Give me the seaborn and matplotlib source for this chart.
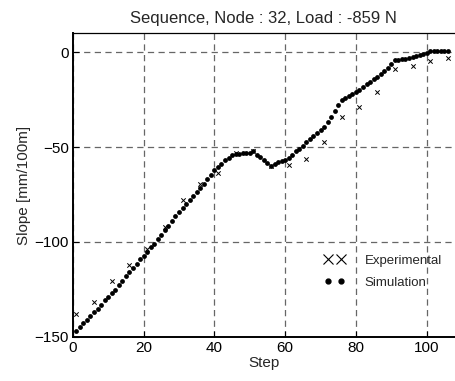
import matplotlib
matplotlib.use("Agg")
import matplotlib.pyplot as plt
from matplotlib.lines import Line2D
import numpy as np
import pandas as pd
import seaborn as sns

# Experimental measurements (every 5 steps)
exp_steps = [1, 6, 11, 16, 21, 26, 31, 36, 41, 46, 51,
             56, 61, 66, 71, 76, 81, 86, 91, 96, 101, 106]
exp_slope = [-138.0, -131.5, -120.5, -112.0, -103.5, -92.0, -78.0, -69.5, -63.5, -53.0, -52.0,
             -60.0, -59.5, -56.5, -47.5, -34.0, -29.0, -21.0, -9.0, -7.5, -4.5, -3.2]

# Simulation values, steps 1..106
sim_steps = list(range(1, 107))
sim_slope = [
    -146.8, -144.7, -142.8, -140.9, -138.9, -136.8, -135.1, -133.0, -130.8, -128.9,
    -127.0, -125.1, -122.8, -120.7, -118.2, -115.8, -113.8, -111.4, -109.1, -107.4,
    -105.3, -102.8, -100.9, -98.4, -96.3, -93.7, -91.4, -88.9, -86.5, -84.4,
    -82.3, -80.2, -78.0, -75.8, -73.7, -71.4, -69.3, -67.0, -64.9, -62.3,
    -60.5, -58.8, -57.0, -55.6, -54.4, -53.5, -53.7, -53.3, -53.2, -53.0,
    -52.3, -54.2, -55.5, -56.6, -58.2, -59.8, -58.9, -58.1, -57.4, -56.6,
    -55.8, -54.4, -52.3, -50.9, -49.3, -47.4, -45.8, -44.0, -42.6, -41.2,
    -39.6, -36.8, -34.2, -31.0, -28.0, -25.4, -24.2, -22.9, -21.9, -21.0,
    -19.7, -18.4, -17.0, -15.6, -14.4, -13.1, -11.7, -10.0, -8.2, -6.1,
    -4.4, -4.0, -3.8, -3.7, -3.3, -2.6, -1.9, -1.4, -1.0, -0.3,
    0.4, 0.4, 0.6, 0.6, 0.7, 0.7,
]

x_ticks = [0, 20, 40, 60, 80, 100]
y_ticks = [0, -50, -100, -150]

sns.set_theme(style="ticks")
plt.rcParams["font.family"] = ["Liberation Sans", "DejaVu Sans"]

exp_df = pd.DataFrame({"Step": exp_steps, "Slope": exp_slope})
sim_df = pd.DataFrame({"Step": sim_steps, "Slope": sim_slope})

fig = plt.figure(figsize=(4.55, 3.81), dpi=100)
ax = fig.add_axes([0.160, 0.116, 0.840, 0.797])

sns.scatterplot(data=sim_df, x="Step", y="Slope", ax=ax, marker="o", s=12,
                color="black", edgecolor="black", linewidth=0, zorder=3)
sns.scatterplot(data=exp_df, x="Step", y="Slope", ax=ax, marker="x", s=10,
                color="black", linewidth=0.7, zorder=4)

ax.set_xlim(0, 108)
ax.set_ylim(-150, 10)
ax.set_xticks(x_ticks)
ax.set_yticks(y_ticks)
ax.tick_params(direction="in", length=4, width=0.8, labelsize=11, pad=3,
               colors="black")
ax.grid(True, color="#666666", linestyle=(0, (5, 3.5)), linewidth=0.9)
ax.set_axisbelow(True)

for side in ["left", "bottom"]:
    ax.spines[side].set_linewidth(1.4)
    ax.spines[side].set_color("black")
ax.spines["top"].set_linewidth(0.9)
ax.spines["top"].set_color("black")
ax.spines["right"].set_visible(False)

ax.set_xlabel("Step", fontsize=11, labelpad=1)
ax.set_ylabel("Slope [mm/100m]", fontsize=11, labelpad=2)
ax.set_title("Sequence, Node : 32, Load : -859 N", fontsize=12, pad=7)

handles = [
    Line2D([], [], linestyle="none", marker="x", markersize=7, color="black",
           markeredgewidth=0.8),
    Line2D([], [], linestyle="none", marker="o", markersize=3.5, color="black"),
]
ax.legend(handles, ["Experimental", "Simulation"], loc="upper left",
          bbox_to_anchor=(0.625, 0.31), frameon=False, numpoints=2,
          fontsize=9.5, handlelength=1.6, handletextpad=1.5, labelspacing=0.75)

fig.savefig("out.png", dpi=100)
